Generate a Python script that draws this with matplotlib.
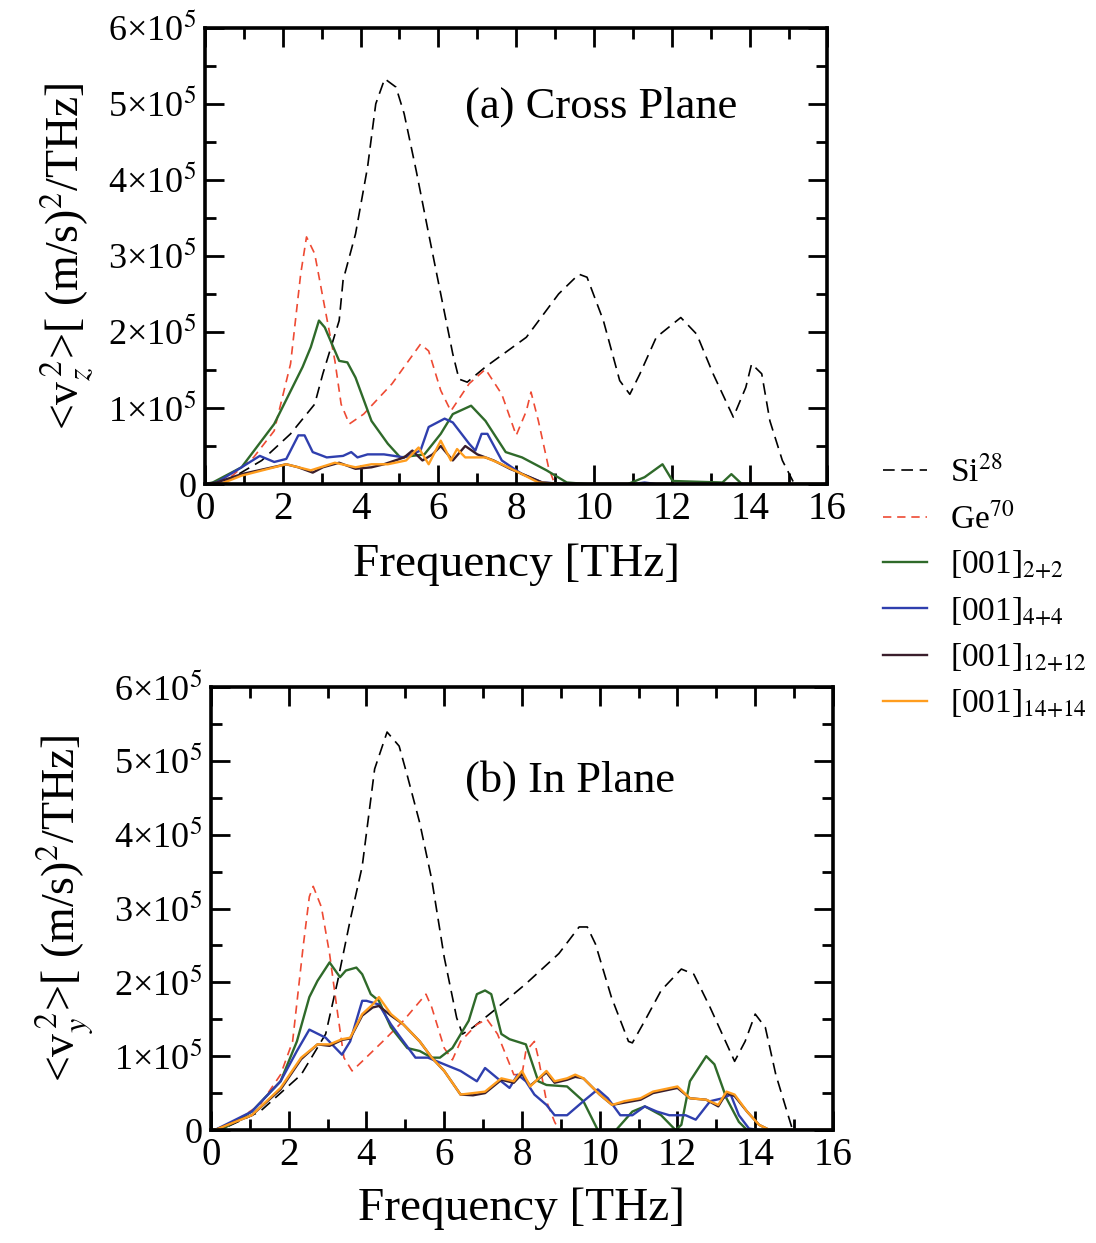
import numpy as np
import matplotlib
matplotlib.use("Agg")
import matplotlib.pyplot as plt
from matplotlib.ticker import MultipleLocator, FixedLocator, FixedFormatter

plt.rcParams["font.family"] = ["Liberation Serif", "DejaVu Serif"]
plt.rcParams["mathtext.fontset"] = "stix"

# ---------------- data (frequency in THz, values in units of 1e5) ----------------
# (a) cross plane
si_a_f = [0.0, 0.5, 1.46, 2.2, 2.82, 3.03, 3.45, 3.55, 3.87, 4.18, 4.39, 4.62, 4.91, 5.12, 5.43,
          5.75, 6.06, 6.37, 6.53, 6.74, 7.21, 8.26, 9.09, 9.61, 9.82, 10.24, 10.66, 10.92, 11.18,
          11.6, 12.23, 12.64, 13.06, 13.58, 13.9, 14.05, 14.31, 14.52, 14.84, 15.15]
si_a_v = [0.0, 0.02, 0.31, 0.66, 1.05, 1.45, 2.15, 2.68, 3.29, 4.17, 5.0, 5.33, 5.22, 4.87, 4.12,
          3.29, 2.5, 1.71, 1.38, 1.34, 1.54, 1.93, 2.5, 2.76, 2.72, 2.15, 1.36, 1.18, 1.45,
          1.93, 2.19, 1.97, 1.45, 0.88, 1.27, 1.58, 1.45, 0.83, 0.31, 0.0]

ge_a_f = [0.0, 0.5, 1.25, 1.78, 2.2, 2.46, 2.61, 2.82, 3.08, 3.34, 3.5, 3.71, 4.08, 4.81, 5.54,
          5.75, 6.06, 6.32, 6.79, 7.21, 7.63, 8.0, 8.26, 8.38, 8.57, 8.83, 8.99]
ge_a_v = [0.0, 0.02, 0.35, 0.7, 1.58, 2.76, 3.25, 3.03, 2.32, 1.62, 1.05, 0.79, 0.92, 1.32, 1.84,
          1.75, 1.23, 0.96, 1.32, 1.51, 1.18, 0.64, 0.96, 1.21, 0.83, 0.22, 0.0]

g22_a_f = [0.0, 0.2, 0.94, 1.78, 2.51, 2.72, 2.93, 3.08, 3.45, 3.66, 3.87, 4.28, 4.7, 5.02, 5.64,
           6.06, 6.37, 6.84, 7.21, 7.73, 8.15, 8.78, 9.3, 9.82, 10.87, 11.3, 11.76, 12.02, 13.3,
           13.53, 13.8, 16.0]
g22_a_v = [0.0, 0.02, 0.22, 0.79, 1.54, 1.8, 2.15, 2.06, 1.62, 1.6, 1.4, 0.83, 0.53, 0.35, 0.39,
           0.66, 0.92, 1.03, 0.83, 0.42, 0.35, 0.18, 0.02, 0.0, 0.0, 0.09, 0.26, 0.04, 0.02,
           0.13, 0.0, 0.0]

b44_a_f = [0.0, 0.3, 0.94, 1.41, 1.78, 2.09, 2.4, 2.56, 2.77, 3.13, 3.55, 3.76, 3.92, 4.18, 4.6,
           5.12, 5.54, 5.75, 6.16, 6.37, 6.79, 6.95, 7.11, 7.26, 7.63, 8.15, 8.67, 9.3, 11.0,
           11.3, 11.6, 16.0]
b44_a_v = [0.0, 0.02, 0.22, 0.37, 0.29, 0.33, 0.64, 0.64, 0.42, 0.35, 0.37, 0.42, 0.35, 0.39, 0.39,
           0.35, 0.44, 0.75, 0.86, 0.81, 0.53, 0.44, 0.66, 0.66, 0.31, 0.13, 0.02, 0.0, 0.0,
           0.02, 0.0, 0.0]

d12_a_f = [0.0, 0.3, 0.94, 2.09, 2.4, 2.77, 3.03, 3.45, 3.87, 4.28, 4.6, 5.12, 5.33, 5.59, 5.85,
           6.06, 6.37, 6.69, 7.0, 7.42, 7.84, 8.26, 8.67, 9.2, 16.0]
d12_a_v = [0.0, 0.02, 0.13, 0.26, 0.22, 0.15, 0.22, 0.28, 0.2, 0.22, 0.26, 0.35, 0.44, 0.31, 0.39,
           0.5, 0.31, 0.5, 0.39, 0.31, 0.2, 0.11, 0.02, 0.0, 0.0]

o14_a_f = [0.0, 0.4, 0.94, 2.09, 2.72, 3.34, 3.87, 4.28, 4.7, 5.17, 5.49, 5.75, 6.06, 6.32, 6.48,
           6.69, 7.21, 7.63, 8.15, 8.57, 9.1, 16.0]
o14_a_v = [0.0, 0.0, 0.11, 0.26, 0.18, 0.28, 0.22, 0.26, 0.26, 0.31, 0.48, 0.26, 0.57, 0.31, 0.46,
           0.35, 0.35, 0.26, 0.13, 0.02, 0.0, 0.0]

# (b) in plane
si_b_f = [0.0, 0.32, 1.26, 2.32, 2.95, 3.26, 3.58, 3.89, 4.21, 4.53, 4.84, 5.05, 5.37, 5.68, 6.0,
          6.32, 6.47, 6.74, 7.26, 8.1, 8.95, 9.47, 9.68, 9.89, 10.3, 10.74, 10.84, 11.16, 11.58,
          12.1, 12.42, 12.84, 13.47, 13.74, 14.0, 14.26, 14.53, 14.95]
si_b_v = [0.0, 0.02, 0.25, 0.75, 1.3, 2.02, 2.84, 3.57, 4.89, 5.39, 5.2, 4.8, 4.16, 3.39, 2.34,
          1.52, 1.3, 1.39, 1.61, 1.98, 2.39, 2.75, 2.75, 2.52, 1.8, 1.2, 1.18, 1.48, 1.89,
          2.18, 2.11, 1.66, 0.93, 1.2, 1.57, 1.39, 0.75, 0.02]

ge_b_f = [0.0, 0.32, 1.26, 1.79, 2.1, 2.37, 2.53, 2.63, 2.84, 3.05, 3.26, 3.42, 3.63, 3.89, 4.42,
          4.95, 5.53, 5.68, 6.0, 6.21, 6.42, 6.84, 7.1, 7.37, 7.79, 8.0, 8.1, 8.32, 8.42, 8.63,
          8.84, 8.95]
ge_b_v = [0.0, 0.02, 0.34, 0.75, 1.2, 2.48, 3.16, 3.3, 3.02, 2.39, 1.57, 0.98, 0.8, 0.93, 1.2,
          1.48, 1.84, 1.66, 1.11, 0.95, 1.2, 1.43, 1.5, 1.3, 0.75, 0.75, 1.07, 1.2, 0.98, 0.39,
          0.11, 0.0]

g22_b_f = [0.0, 0.32, 1.05, 1.79, 2.21, 2.53, 2.74, 3.05, 3.32, 3.47, 3.74, 3.89, 4.11, 4.32, 4.63,
           5.05, 5.37, 5.68, 5.89, 6.21, 6.63, 6.84, 7.05, 7.21, 7.47, 7.68, 8.1, 8.42, 8.63,
           9.16, 9.58, 9.95, 10.42, 10.84, 11.16, 11.58, 11.95, 12.1, 12.32, 12.74, 12.95, 13.26,
           13.58, 13.79, 16.0]
g22_b_v = [0.0, 0.02, 0.25, 0.66, 1.2, 1.8, 2.02, 2.27, 2.07, 2.16, 2.2, 2.11, 1.84, 1.75, 1.39,
           1.11, 1.07, 0.98, 0.98, 1.11, 1.48, 1.84, 1.89, 1.84, 1.3, 1.23, 1.16, 0.66, 0.61,
           0.59, 0.39, 0.0, 0.0, 0.25, 0.32, 0.2, 0.0, 0.07, 0.66, 1.0, 0.89, 0.43,
           0.11, 0.0, 0.0]

b44_b_f = [0.0, 0.1, 1.05, 1.79, 2.21, 2.53, 2.95, 3.37, 3.58, 3.89, 4.0, 4.32, 4.63, 4.95, 5.26,
           5.58, 6.0, 6.42, 6.84, 7.05, 7.37, 7.68, 7.89, 8.1, 8.32, 8.63, 8.84, 9.16, 9.58, 9.95,
           10.21, 10.53, 10.84, 11.16, 11.47, 11.79, 12.21, 12.47, 12.84, 13.16, 13.37, 13.58,
           13.84, 14.1, 16.0]
b44_b_v = [0.0, 0.0, 0.25, 0.66, 1.07, 1.36, 1.25, 1.02, 1.2, 1.75, 1.75, 1.7, 1.43, 1.2, 0.98,
           0.98, 0.89, 0.8, 0.66, 0.84, 0.7, 0.57, 0.75, 0.66, 0.48, 0.34, 0.2, 0.2, 0.39, 0.55,
           0.43, 0.2, 0.2, 0.32, 0.25, 0.2, 0.2, 0.14, 0.39, 0.43, 0.48, 0.2,
           0.02, 0.0, 0.0]

d12_b_f = [0.0, 0.1, 1.05, 1.79, 2.32, 2.74, 3.05, 3.37, 3.58, 3.89, 4.16, 4.32, 4.63, 4.95, 5.37,
           5.68, 6.0, 6.42, 6.74, 7.05, 7.47, 7.79, 8.0, 8.21, 8.63, 8.84, 9.16, 9.37, 9.58, 10.0,
           10.32, 10.63, 11.05, 11.37, 12.0, 12.32, 12.74, 13.05, 13.26, 13.47, 13.79, 14.1,
           14.37, 16.0]
d12_b_v = [0.0, 0.0, 0.2, 0.55, 0.96, 1.16, 1.14, 1.22, 1.24, 1.55, 1.66, 1.68, 1.55, 1.43, 1.2,
           0.98, 0.8, 0.48, 0.47, 0.5, 0.68, 0.64, 0.76, 0.6, 0.78, 0.64, 0.68, 0.72, 0.7, 0.48,
           0.34, 0.37, 0.41, 0.5, 0.57, 0.43, 0.41, 0.32, 0.5, 0.46, 0.25, 0.07,
           0.0, 0.0]

o14_b_f = [0.0, 0.1, 1.05, 1.79, 2.32, 2.74, 3.05, 3.37, 3.58, 3.89, 4.16, 4.32, 4.63, 4.95, 5.37,
           5.68, 6.0, 6.42, 6.74, 7.05, 7.47, 7.79, 8.0, 8.21, 8.63, 8.84, 9.16, 9.37, 9.58, 10.0,
           10.32, 10.63, 11.05, 11.37, 12.0, 12.32, 12.74, 13.05, 13.26, 13.47, 13.79, 14.1,
           14.37, 16.0]
o14_b_v = [0.0, 0.0, 0.2, 0.57, 0.98, 1.16, 1.16, 1.23, 1.25, 1.57, 1.7, 1.8, 1.57, 1.43, 1.2,
           0.98, 0.8, 0.48, 0.5, 0.52, 0.7, 0.66, 0.8, 0.59, 0.8, 0.66, 0.7, 0.75, 0.7, 0.48,
           0.34, 0.39, 0.43, 0.52, 0.59, 0.43, 0.41, 0.34, 0.52, 0.48, 0.25, 0.07,
           0.0, 0.0]

labels = [r"Si$^{28}$", r"Ge$^{70}$", r"[001]$_{2{+}2}$", r"[001]$_{4{+}4}$",
          r"[001]$_{12{+}12}$", r"[001]$_{14{+}14}$"]
colors = ["black", "#ee4a33", "#2f6a2a", "#2f3fae", "#3a1e2c", "#ff9d1e"]
ytick_labels = ["0", r"1×10$^5$", r"2×10$^5$", r"3×10$^5$", r"4×10$^5$", r"5×10$^5$", r"6×10$^5$"]
xtick_labels = ["0", "2", "4", "6", "8", "10", "12", "14", "16"]

panels = [
    dict(rect=[0.187, 0.6106, 0.568, 0.367], tag="(a) Cross Plane", tagpos=(0.637, 0.827),
         comp="z", ylx=-0.175,
         series=[(si_a_f, si_a_v), (ge_a_f, ge_a_v), (g22_a_f, g22_a_v), (b44_a_f, b44_a_v),
                 (d12_a_f, d12_a_v), (o14_a_f, o14_a_v)]),
    dict(rect=[0.1925, 0.0909, 0.5675, 0.3564], tag="(b) In Plane", tagpos=(0.577, 0.79),
         comp="y", ylx=-0.185,
         series=[(si_b_f, si_b_v), (ge_b_f, ge_b_v), (g22_b_f, g22_b_v), (b44_b_f, b44_b_v),
                 (d12_b_f, d12_b_v), (o14_b_f, o14_b_v)]),
]

styles = [
    dict(ls=(0, (7, 4)), lw=1.2),
    dict(ls=(0, (5, 3.5)), lw=1.2),
    dict(ls="-", lw=1.7),
    dict(ls="-", lw=1.7),
    dict(ls="-", lw=1.7),
    dict(ls="-", lw=1.7),
]

fig = plt.figure(figsize=(10.96, 12.43), dpi=100)

handles = []
for k, p in enumerate(panels):
    ax = fig.add_axes(p["rect"])
    for i, (f, v) in enumerate(p["series"]):
        ln, = ax.plot(f, np.asarray(v) * 1e5, color=colors[i], label=labels[i], **styles[i])
        if k == 0:
            handles.append(ln)

    ax.set_xlim(0, 16)
    ax.set_ylim(0, 6e5)
    ax.xaxis.set_major_locator(FixedLocator(np.arange(0, 17, 2)))
    ax.xaxis.set_major_formatter(FixedFormatter(xtick_labels))
    ax.xaxis.set_minor_locator(MultipleLocator(1))
    ax.yaxis.set_major_locator(FixedLocator(np.arange(0, 7) * 1e5))
    ax.yaxis.set_major_formatter(FixedFormatter(ytick_labels))
    ax.yaxis.set_minor_locator(MultipleLocator(0.5e5))

    ax.tick_params(which="both", direction="in", top=True, right=True, width=2.0)
    ax.tick_params(which="major", length=14, pad=5)
    ax.tick_params(axis="x", labelsize=28)
    ax.tick_params(axis="y", labelsize=26, pad=6)
    ax.tick_params(which="minor", length=8)
    for s in ax.spines.values():
        s.set_linewidth(2.6)

    ax.set_xlabel("Frequency [THz]", fontsize=34)
    ax.xaxis.set_label_coords(0.5, -0.13, transform=ax.transAxes)
    ax.xaxis.label.set_va("top")
    ax.set_ylabel(r"<v$_%s^{\,2}$>[ (m/s)$^2$/THz]" % p["comp"], fontsize=33)
    ax.yaxis.set_label_coords(p["ylx"], 0.5, transform=ax.transAxes)

    ax.text(p["tagpos"][0], p["tagpos"][1], p["tag"], transform=ax.transAxes,
            ha="center", va="center", fontsize=32)

fig.legend(handles=handles, loc="upper left", bbox_to_anchor=(0.806, 0.633),
           frameon=False, fontsize=24, handlelength=1.3, handletextpad=0.7,
           labelspacing=0.42, borderpad=0.0, borderaxespad=0.0)

fig.savefig("out.png", dpi=100)
